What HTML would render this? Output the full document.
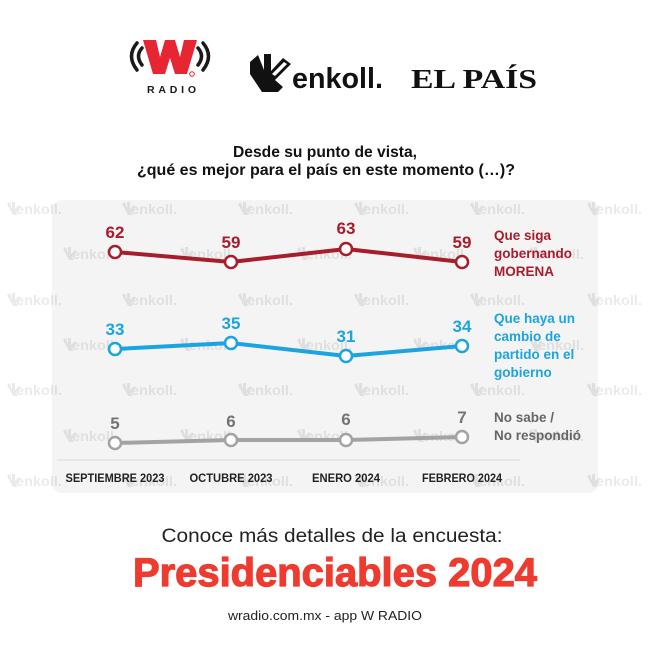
<!DOCTYPE html>
<html><head><meta charset="utf-8"><style>
html,body{margin:0;padding:0;background:#fff;}
svg{display:block;}
</style></head><body>
<svg width="650" height="650" viewBox="0 0 650 650" xmlns="http://www.w3.org/2000/svg">
<defs>
<g id="wm">
  <path d="M0,2 L3,0 L5,7 L5,0 L8,0 L8,7 L12,3 L14,5 L9,10 L11,13 L6,13 Z" fill="#000"/>
  <text x="9" y="12" font-family="Liberation Sans, sans-serif" font-weight="bold" font-size="14" fill="#000" textLength="46" lengthAdjust="spacingAndGlyphs">enkoll.</text>
</g>
</defs>
<rect width="650" height="650" fill="#fff"/>

<!-- W Radio logo -->
<path d="M137,43 Q126,56 137,70" fill="none" stroke="#1a1a1a" stroke-width="3.5" stroke-linecap="round"/>
<path d="M142,48 Q135,56 142,65" fill="none" stroke="#1a1a1a" stroke-width="3.5" stroke-linecap="round"/>
<path d="M203,43 Q214,56 203,70" fill="none" stroke="#1a1a1a" stroke-width="3.5" stroke-linecap="round"/>
<path d="M198,48 Q205,56 198,65" fill="none" stroke="#1a1a1a" stroke-width="3.5" stroke-linecap="round"/>
<polygon points="143,40 156,40 160,57 165,40 175,40 180,57 184,40 197,40 187,74 175,74 170,58 165,74 153,74" fill="#e62633"/>
<circle cx="192" cy="74" r="2.3" fill="none" stroke="#e62633" stroke-width="1"/>
<text x="147" y="93" font-family="Liberation Sans, sans-serif" font-weight="bold" font-size="10.5" fill="#1a1a1a" textLength="49" lengthAdjust="spacing">RADIO</text>

<!-- enkoll logo -->
<path d="M250,62 L258,55 L264,70 L264,54 L271,54 L271,71 L283,58 L291,64 L275,80 L283,87 L278,92 L262,92 L250,74 Z" fill="#111"/>
<path d="M272,74 L284,62 L287,64 L275,76 Z" fill="#fff"/>
<text x="292" y="88" font-family="Liberation Sans, sans-serif" font-weight="bold" font-size="29" fill="#111" textLength="91" lengthAdjust="spacingAndGlyphs">enkoll.</text>

<!-- EL PAÍS -->
<text x="411" y="88" font-family="Liberation Serif, serif" font-weight="bold" font-size="27" fill="#111" textLength="126" lengthAdjust="spacingAndGlyphs">EL PAÍS</text>

<!-- Title -->
<text x="325" y="157" text-anchor="middle" font-family="Liberation Sans, sans-serif" font-weight="bold" font-size="16" fill="#111" textLength="184" lengthAdjust="spacingAndGlyphs">Desde su punto de vista,</text>
<text x="326" y="175" text-anchor="middle" font-family="Liberation Sans, sans-serif" font-weight="bold" font-size="16" fill="#111" textLength="378" lengthAdjust="spacingAndGlyphs">¿qué es mejor para el país en este momento (…)?</text>

<!-- panel -->
<rect x="52" y="200" width="546" height="293" rx="10" fill="#f4f4f4"/>

<!-- watermarks -->
<g opacity="0.08">
  <use href="#wm" x="7" y="202"/><use href="#wm" x="122" y="202"/><use href="#wm" x="238" y="202"/><use href="#wm" x="354" y="202"/><use href="#wm" x="470" y="202"/><use href="#wm" x="587" y="202"/>
  <use href="#wm" x="63" y="247"/><use href="#wm" x="180" y="247"/><use href="#wm" x="297" y="247"/><use href="#wm" x="413" y="247"/><use href="#wm" x="529" y="247"/>
  <use href="#wm" x="7" y="293"/><use href="#wm" x="122" y="293"/><use href="#wm" x="238" y="293"/><use href="#wm" x="354" y="293"/><use href="#wm" x="470" y="293"/><use href="#wm" x="587" y="293"/>
  <use href="#wm" x="63" y="338"/><use href="#wm" x="180" y="338"/><use href="#wm" x="297" y="338"/><use href="#wm" x="413" y="338"/><use href="#wm" x="529" y="338"/>
  <use href="#wm" x="7" y="383"/><use href="#wm" x="122" y="383"/><use href="#wm" x="238" y="383"/><use href="#wm" x="354" y="383"/><use href="#wm" x="470" y="383"/><use href="#wm" x="587" y="383"/>
  <use href="#wm" x="63" y="429"/><use href="#wm" x="180" y="429"/><use href="#wm" x="297" y="429"/><use href="#wm" x="413" y="429"/><use href="#wm" x="529" y="429"/>
  <use href="#wm" x="7" y="474"/><use href="#wm" x="122" y="474"/><use href="#wm" x="238" y="474"/><use href="#wm" x="354" y="474"/><use href="#wm" x="470" y="474"/><use href="#wm" x="587" y="474"/>
</g>

<!-- axis line -->
<line x1="57" y1="460" x2="520" y2="460" stroke="#dadada" stroke-width="1"/>

<!-- red series -->
<polyline points="115,252 231,262 346,249 462,262" fill="none" stroke="#a81d2b" stroke-width="4" stroke-linejoin="round"/>
<g fill="#fff" stroke="#a81d2b" stroke-width="2.5">
<circle cx="115" cy="252" r="6"/><circle cx="231" cy="262" r="6"/><circle cx="346" cy="249" r="6"/><circle cx="462" cy="262" r="6"/>
</g>
<g font-family="Liberation Sans, sans-serif" font-weight="bold" font-size="17" fill="#a81d2b" text-anchor="middle">
<text x="115" y="238">62</text><text x="231" y="248">59</text><text x="346" y="234">63</text><text x="462" y="248">59</text>
</g>

<!-- blue series -->
<polyline points="115,349 231,343 346,356 462,346" fill="none" stroke="#1ca4e0" stroke-width="4" stroke-linejoin="round"/>
<g fill="#fff" stroke="#1ca4e0" stroke-width="2.5">
<circle cx="115" cy="349" r="6"/><circle cx="231" cy="343" r="6"/><circle cx="346" cy="356" r="6"/><circle cx="462" cy="346" r="6"/>
</g>
<g font-family="Liberation Sans, sans-serif" font-weight="bold" font-size="17" fill="#1ca4e0" text-anchor="middle">
<text x="115" y="335">33</text><text x="231" y="329">35</text><text x="346" y="342">31</text><text x="462" y="332">34</text>
</g>

<!-- gray series -->
<polyline points="115,443 231,440 346,440 462,437" fill="none" stroke="#a3a3a3" stroke-width="4" stroke-linejoin="round"/>
<g fill="#fff" stroke="#a3a3a3" stroke-width="2.5">
<circle cx="115" cy="443" r="6"/><circle cx="231" cy="440" r="6"/><circle cx="346" cy="440" r="6"/><circle cx="462" cy="437" r="6"/>
</g>
<g font-family="Liberation Sans, sans-serif" font-weight="bold" font-size="17" fill="#737373" text-anchor="middle">
<text x="115" y="429">5</text><text x="231" y="427">6</text><text x="346" y="425">6</text><text x="462" y="423">7</text>
</g>

<!-- legend -->
<g font-family="Liberation Sans, sans-serif" font-weight="bold" font-size="13.5" fill="#a81d2b">
<text x="494" y="240">Que siga</text>
<text x="494" y="258">gobernando</text>
<text x="494" y="276">MORENA</text>
</g>
<g font-family="Liberation Sans, sans-serif" font-weight="bold" font-size="13.5" fill="#1ca4e0">
<text x="494" y="323">Que haya un</text>
<text x="494" y="341">cambio de</text>
<text x="494" y="359">partido en el</text>
<text x="494" y="377">gobierno</text>
</g>
<g font-family="Liberation Sans, sans-serif" font-weight="bold" font-size="13.5" fill="#666">
<text x="494" y="422">No sabe /</text>
<text x="494" y="440">No respondió</text>
</g>

<!-- x labels -->
<g font-family="Liberation Sans, sans-serif" font-weight="bold" font-size="12" fill="#222" text-anchor="middle">
<text x="115" y="482" textLength="99" lengthAdjust="spacingAndGlyphs">SEPTIEMBRE 2023</text>
<text x="231" y="482" textLength="83" lengthAdjust="spacingAndGlyphs">OCTUBRE 2023</text>
<text x="346" y="482" textLength="68" lengthAdjust="spacingAndGlyphs">ENERO 2024</text>
<text x="462" y="482" textLength="80" lengthAdjust="spacingAndGlyphs">FEBRERO 2024</text>
</g>

<!-- bottom -->
<text x="332" y="542" text-anchor="middle" font-family="Liberation Sans, sans-serif" font-size="19" fill="#222" textLength="341" lengthAdjust="spacingAndGlyphs">Conoce más detalles de la encuesta:</text>
<text x="335" y="586" text-anchor="middle" font-family="Liberation Sans, sans-serif" font-weight="bold" font-size="40" fill="#ef3a2f" stroke="#ef3a2f" stroke-width="1.2" textLength="404" lengthAdjust="spacingAndGlyphs">Presidenciables 2024</text>
<text x="325" y="620" text-anchor="middle" font-family="Liberation Sans, sans-serif" font-size="13" fill="#222" textLength="194" lengthAdjust="spacingAndGlyphs">wradio.com.mx - app W RADIO</text>
</svg>
</body></html>
